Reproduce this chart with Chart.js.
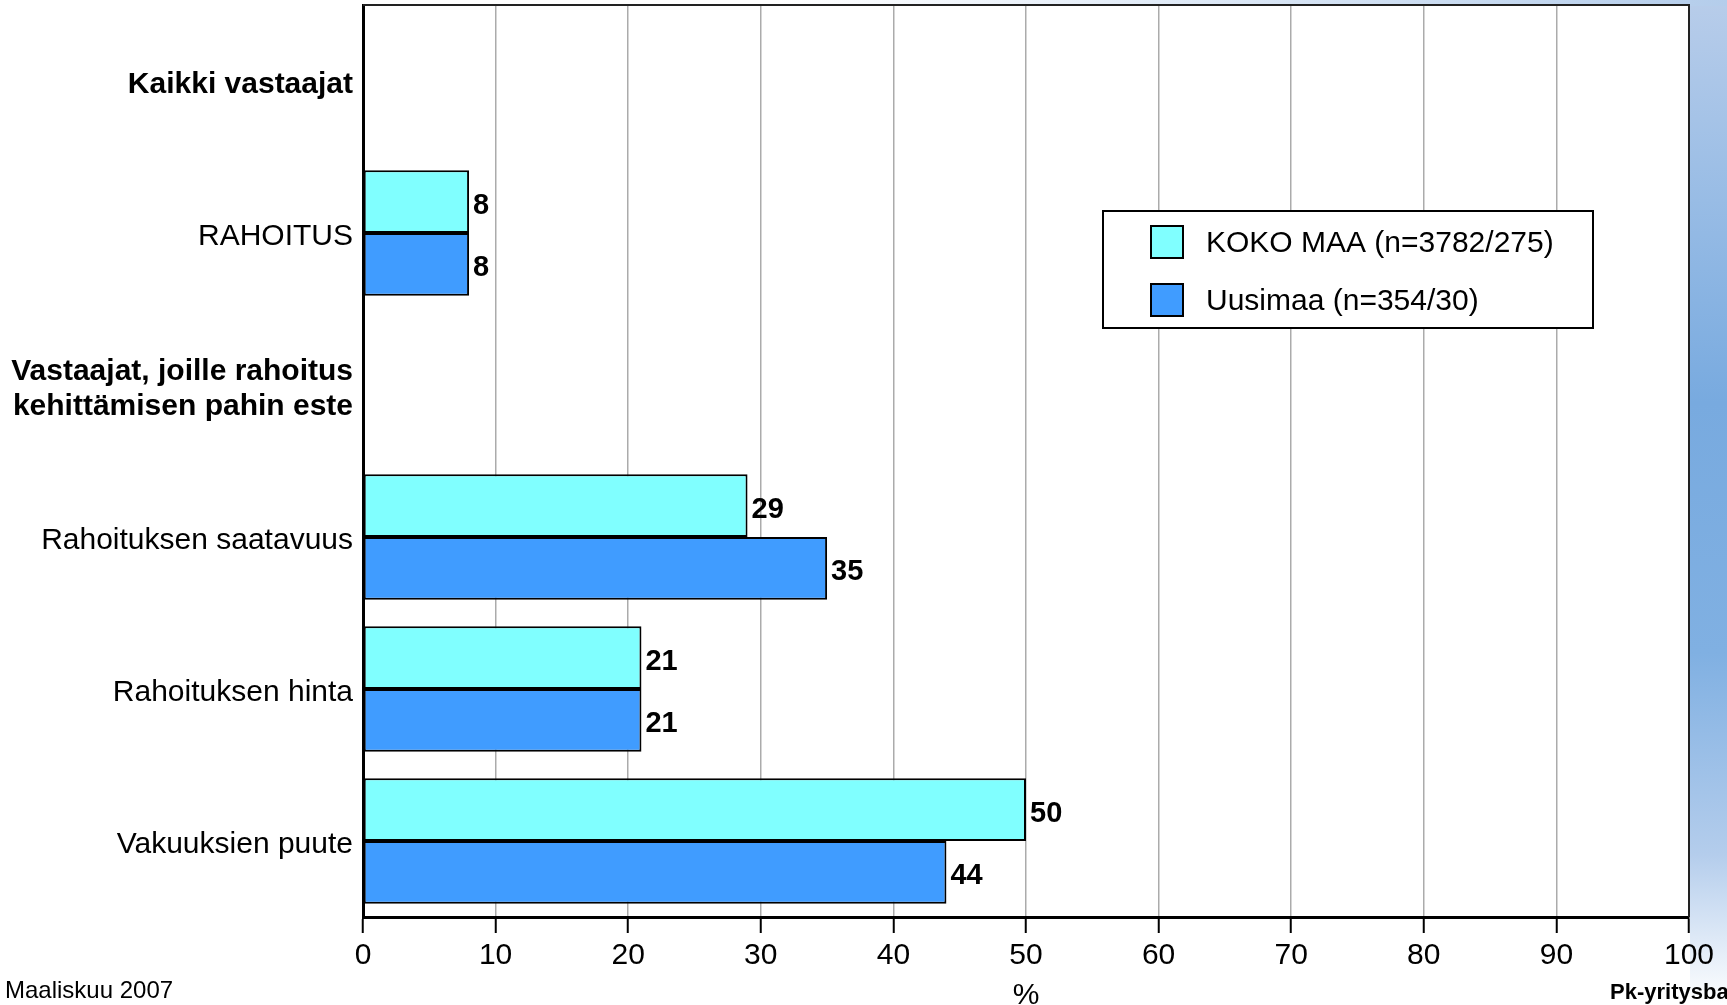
<!DOCTYPE html>
<html>
<head>
<meta charset="utf-8">
<script src="https://cdn.jsdelivr.net/npm/chart.js@4/dist/chart.umd.min.js"></script>
<style>
html,body{margin:0;padding:0;background:#fff;overflow:hidden}
#wrap{position:relative;width:1727px;height:1005px}
#side{position:absolute;left:1690px;top:0;width:37px;height:1005px;background:linear-gradient(to bottom,#b8cdea 0%,#98bce5 20%,#78aadf 40%,#80b0e2 65%,#b4cdec 85%,#ffffff 100%)}
#strip{position:absolute;left:0;top:0;width:1727px;height:6px;background:linear-gradient(to right,#ffffff 45%,#b4cdeb 100%)}
canvas{position:absolute;left:0;top:0}
</style>
</head>
<body>
<div id="wrap">
<div id="side"></div>
<div id="strip"></div>
<canvas id="chart" width="1727" height="1005"></canvas>
</div>
<script>

// categories (null rows are the bold group headers)
const categories=[
"Kaikki vastaajat",
"RAHOITUS",
["Vastaajat, joille rahoitus","kehittämisen pahin este"],
"Rahoituksen saatavuus",
"Rahoituksen hinta",
"Vakuuksien puute"
]
const headerRows=[0,2]

const seriesNames=["KOKO MAA (n=3782/275)","Uusimaa (n=354/30)"]
const kokoMaa=[null,8,null,29,21,50]
const uusimaa=[null,8,null,35,21,44]

const xTicks=[0,10,20,30,40,50,60,70,80,90,100]

const FONT="'Liberation Sans', Arial, sans-serif"

const paperPlugin={
id:"paper",
beforeDraw(chart){
const a=chart.chartArea
const ctx=chart.ctx
ctx.save()
ctx.fillStyle="#fff"
ctx.fillRect(a.left,a.top,a.right-a.left,a.bottom-a.top)
ctx.restore()
},
afterDraw(chart){
const a=chart.chartArea
const ctx=chart.ctx
ctx.save()
// top + right frame
ctx.strokeStyle="#222"
ctx.lineWidth=2
ctx.beginPath()
ctx.moveTo(a.left,a.top)
ctx.lineTo(a.right,a.top)
ctx.lineTo(a.right,a.bottom)
ctx.stroke()

// value labels
ctx.fillStyle="#000"
ctx.font="bold 29px "+FONT
ctx.textBaseline="middle"
ctx.textAlign="left"
chart.data.datasets.forEach((ds,i)=>{
const meta=chart.getDatasetMeta(i)
meta.data.forEach((bar,j)=>{
if(ds.data[j]==null) return
ctx.fillText(String(ds.data[j]),bar.x+4,bar.y+4)
})
})

// legend box
const lx=1103,ly=211,lw=490,lh=117
ctx.fillStyle="#fff"
ctx.fillRect(lx,ly,lw,lh)
ctx.strokeStyle="#000"
ctx.lineWidth=2
ctx.strokeRect(lx,ly,lw,lh)
ctx.font="30px "+FONT
chart.data.datasets.forEach((ds,i)=>{
const y=226+i*58
ctx.fillStyle=ds.backgroundColor
ctx.fillRect(1151,y,32,32)
ctx.strokeStyle="#000"
ctx.lineWidth=2
ctx.strokeRect(1151,y,32,32)
ctx.fillStyle="#000"
ctx.textBaseline="middle"
ctx.fillText(ds.label,1206,y+18)
})

// footer texts
ctx.font="24px "+FONT
ctx.textBaseline="middle"
ctx.fillText("Maaliskuu 2007",5,991)
ctx.font="bold 22px "+FONT
ctx.fillText("Pk-yritysbarometri",1610,993)
ctx.restore()
}
}

new Chart(document.getElementById("chart"),{
type:"bar",
data:{
labels:categories,
datasets:[
{label:seriesNames[0],data:kokoMaa,backgroundColor:"#80ffff",borderColor:"#000",borderWidth:2,borderSkipped:false},
{label:seriesNames[1],data:uusimaa,backgroundColor:"#409cff",borderColor:"#000",borderWidth:2,borderSkipped:false}
]
},
options:{
indexAxis:"y",
responsive:false,
animation:false,
devicePixelRatio:1,
layout:{padding:{top:5,right:38,left:0,bottom:0}},
datasets:{bar:{categoryPercentage:0.825,barPercentage:1}},
plugins:{legend:{display:false},tooltip:{enabled:false}},
scales:{
x:{
min:0,max:100,
afterBuildTicks(scale){scale.ticks=xTicks.map(v=>({value:v}))},
afterFit(scale){scale.height=88},
grid:{color:"#ababab",lineWidth:1.5,tickColor:"#000",tickWidth:2,tickLength:16},
border:{color:"#000",width:3},
ticks:{color:"#000",font:{family:FONT,size:30},padding:5,maxRotation:0},
title:{display:true,text:"%",color:"#000",font:{family:FONT,size:30,lineHeight:1},padding:{top:0,bottom:-6}}
},
y:{
afterFit(scale){scale.width=363;scale.paddingTop=0;scale.paddingBottom=0},
grid:{display:false,drawTicks:false,tickLength:0},
border:{color:"#000",width:3},
ticks:{
color:"#000",
padding:10,
labelOffset:4,
autoSkip:false,
font:c=>({family:FONT,size:30,lineHeight:1.15,weight:headerRows.includes(c.index)?"bold":"normal"})
}
}
}
},
plugins:[paperPlugin]
})

</script>
</body>
</html>
